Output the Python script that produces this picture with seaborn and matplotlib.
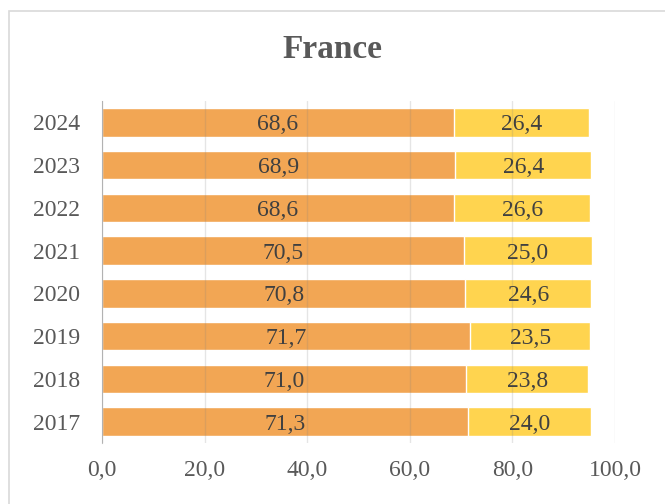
import matplotlib
matplotlib.use('Agg')
import matplotlib.pyplot as plt
import pandas as pd
import seaborn as sns

years = ['2024', '2023', '2022', '2021', '2020', '2019', '2018', '2017']
share_a = [68.6, 68.9, 68.6, 70.5, 70.8, 71.7, 71.0, 71.3]
share_b = [26.4, 26.4, 26.6, 25.0, 24.6, 23.5, 23.8, 24.0]
x_ticks = [0, 20, 40, 60, 80, 100]

orange = '#F2A654'
yellow = '#FFD44F'

sns.set_style('white')
plt.rcParams['font.family'] = ['Liberation Serif', 'DejaVu Serif']

df = pd.DataFrame({'Year': years, 'A': share_a, 'B': share_b})
df['Total'] = df['A'] + df['B']

fig = plt.figure(figsize=(6.65, 5.04), dpi=100)
ax = fig.add_axes([102 / 665, 1 - 443 / 504, (615 - 102) / 665, (443 - 101) / 504])

# stacked: draw totals first, then the first segment over it
sns.barplot(data=df, x='Total', y='Year', color=yellow, saturation=1,
            width=0.67, orient='h', ax=ax, zorder=2)
sns.barplot(data=df, x='A', y='Year', color=orange, saturation=1,
            width=0.67, orient='h', ax=ax, zorder=2)

for i, (a, b) in enumerate(zip(share_a, share_b)):
    ax.text(a / 2, i, f'{a:.1f}'.replace('.', ','), ha='center',
            va='center_baseline', fontsize=17, color='#404040', zorder=4)
    ax.text(a + b / 2, i, f'{b:.1f}'.replace('.', ','), ha='center',
            va='center_baseline', fontsize=17, color='#404040', zorder=4)

ax.set_xlim(0, 100)
ax.set_ylim(len(years) - 0.5, -0.5)
ax.set_xticks(x_ticks)
ax.set_xticklabels([f'{t:.1f}'.replace('.', ',') for t in x_ticks])
ax.tick_params(axis='both', labelsize=17, colors='#595959', length=0)
ax.tick_params(axis='x', pad=12)
ax.tick_params(axis='y', pad=16)
ax.xaxis.grid(True, color='#808080', linewidth=1, alpha=0.2, zorder=3)
ax.set_axisbelow(False)
for s in ['top', 'right', 'bottom']:
    ax.spines[s].set_visible(False)
ax.spines['left'].set_color('#BFBFBF')
ax.set_xlabel('')
ax.set_ylabel('')

fig.text(0.5, 1 - 50 / 504, 'France', ha='center', va='center',
         fontsize=24, fontweight='bold', color='#595959')

# chart frame
fig.patches.append(plt.Rectangle((9 / 665, -0.05), 1.2, 1 - 10.5 / 504 + 0.05,
                                 transform=fig.transFigure, fill=False,
                                 edgecolor='#D9D9D9', linewidth=1.2))

fig.savefig('out.png', dpi=100)
